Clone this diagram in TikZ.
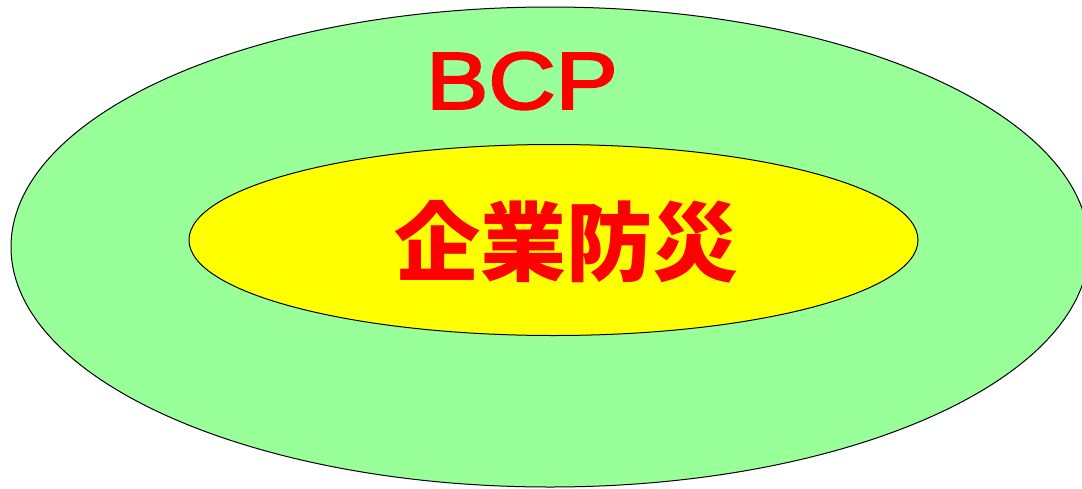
\documentclass[tikz,border=0pt]{standalone}
\usepackage{fontspec}
\setmainfont{Liberation Sans}
\newfontfamily\bcpfont[FakeBold=2.5]{Liberation Sans}
\newfontfamily\cjk{Noto Sans CJK JP}
\usepackage{tikz}
\usetikzlibrary{shapes, positioning}
\definecolor{bcpgreen}{HTML}{99FF99}
\definecolor{bousaiyellow}{HTML}{FFFF00}
\tikzstyle{zone}=[draw,ellipse,inner sep=0pt,line width=1pt]
\tikzstyle{every node}=[text=red]

\begin{document}
\begin{tikzpicture}[x=1pt,y=1pt]
  \clip (0,0) rectangle (1082,-488);
  \useasboundingbox (0,0) rectangle (1082,-488);
  \fill[white] (0,0) rectangle (1082,-488);
  \node[zone, fill=bcpgreen, minimum width=1078pt, minimum height=480pt] (bcp) at (550,-247) {};
  \node[zone, fill=bousaiyellow, minimum width=729pt, minimum height=191pt] (bousai) at (553.5,-240) {};
  \node[font=\bcpfont\fontsize{81}{81}\selectfont, xscale=1.15] (bcplabel) at (522,-81) {BCP};
  \node[font=\cjk\bfseries\fontsize{86}{86}\selectfont] (bousailabel) at (566,-242) {企業防災};
\end{tikzpicture}
\end{document}
